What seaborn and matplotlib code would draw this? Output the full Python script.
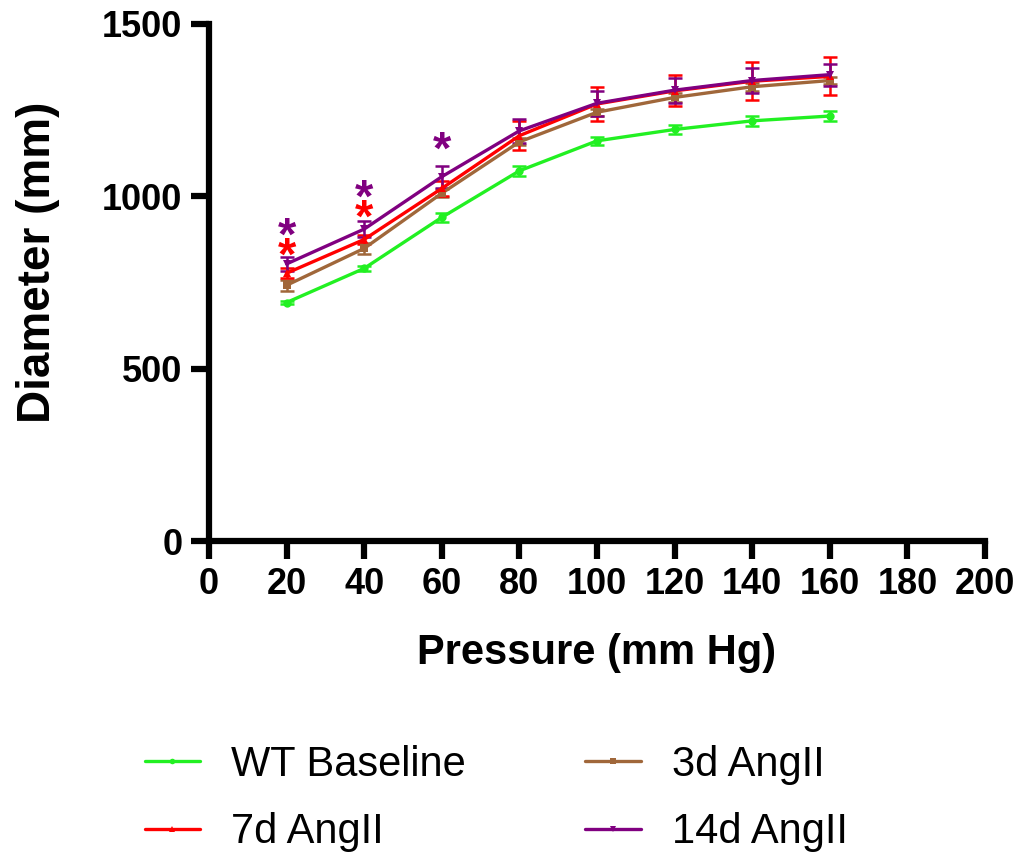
import numpy as np
import pandas as pd
import matplotlib
matplotlib.use("Agg")
import matplotlib.pyplot as plt
import seaborn as sns
from matplotlib.lines import Line2D

# ---- data ----
pressure = [20, 40, 60, 80, 100, 120, 140, 160]
groups = ["WT Baseline", "7d AngII", "3d AngII", "14d AngII"]
wt_mean = [692, 791, 939, 1074, 1161, 1194, 1219, 1233]
wt_sem = [4, 7, 14, 14, 12, 14, 14, 14]
d7_mean = [777, 875, 1023, 1176, 1268, 1306, 1334, 1348]
d7_sem = [15, 12, 22, 42, 50, 45, 55, 55]
d3_mean = [742, 849, 1009, 1158, 1244, 1287, 1318, 1336]
d3_sem = [16, 17, 12, 10, 10, 12, 12, 10]
d14_mean = [804, 905, 1057, 1190, 1270, 1308, 1336, 1353]
d14_sem = [21, 23, 32, 34, 36, 36, 36, 32]

star_x = [20, 20, 40, 40, 60]
star_y = [850, 908, 960, 1018, 1157]
star_group = ["7d AngII", "14d AngII", "7d AngII", "14d AngII", "14d AngII"]

x_ticks = [0, 20, 40, 60, 80, 100, 120, 140, 160, 180, 200]
y_ticks = [0, 500, 1000, 1500]

colors = {"WT Baseline": "#22F022", "7d AngII": "#FF0000",
          "3d AngII": "#A0673A", "14d AngII": "#800080"}
markers = {"WT Baseline": "o", "7d AngII": "^", "3d AngII": "s", "14d AngII": "v"}
means = {"WT Baseline": wt_mean, "7d AngII": d7_mean, "3d AngII": d3_mean, "14d AngII": d14_mean}
sems = {"WT Baseline": wt_sem, "7d AngII": d7_sem, "3d AngII": d3_sem, "14d AngII": d14_sem}

rows = []
for g in groups:
    for p, m, s in zip(pressure, means[g], sems[g]):
        rows.append({"Pressure": p, "Diameter": m, "SEM": s, "Group": g})
df = pd.DataFrame(rows)

sns.set_style("ticks")
plt.rcParams["font.family"] = ["Liberation Sans", "DejaVu Sans"]
plt.rcParams["text.color"] = "black"
plt.rcParams["axes.labelcolor"] = "black"
plt.rcParams["xtick.color"] = "black"
plt.rcParams["ytick.color"] = "black"

fig = plt.figure(figsize=(10.18, 8.57), dpi=100)
ax = fig.add_axes([0.2053, 0.3687, 0.7623, 0.6033])

draw_order = ["WT Baseline", "3d AngII", "7d AngII", "14d AngII"]
for g in draw_order:
    sub = df[df["Group"] == g]
    ax.errorbar(sub["Pressure"], sub["Diameter"], yerr=sub["SEM"], fmt="none",
                ecolor=colors[g], elinewidth=1.8, capsize=5, capthick=1.8, zorder=2)
sns.lineplot(data=df, x="Pressure", y="Diameter", hue="Group", style="Group",
             hue_order=draw_order, style_order=draw_order,
             palette=colors, markers=markers, dashes=False, linewidth=2.4,
             markersize=6, markeredgewidth=0, ax=ax, legend=False, zorder=3)

for sx, sy, sg in zip(star_x, star_y, star_group):
    ax.text(sx, sy - 27, "*", color=colors[sg], fontsize=34, fontweight="bold",
            ha="center", va="center")

ax.set_xlim(0, 200)
ax.set_ylim(0, 1500)
ax.set_xticks(x_ticks)
ax.set_yticks(y_ticks)
for sp in ["top", "right"]:
    ax.spines[sp].set_visible(False)
for sp in ["left", "bottom"]:
    ax.spines[sp].set_linewidth(4.5)
    ax.spines[sp].set_color("black")
ax.tick_params(axis="both", direction="out", length=13, width=4.5, color="black",
               labelcolor="black", labelsize=26, pad=6)
for lab in ax.get_xticklabels() + ax.get_yticklabels():
    lab.set_fontweight("bold")
ax.set_xlabel("Pressure (mm Hg)", fontsize=30, fontweight="bold", labelpad=22)
ax.set_ylabel("Diameter (mm)", fontsize=33, fontweight="bold")
ax.yaxis.set_label_coords(-0.192, 0.54)

handles = [Line2D([0], [0], color=colors[g], lw=2.4, marker=markers[g], markersize=4,
                  markeredgewidth=0) for g in groups]
fig.legend(handles, groups, loc="center left", bbox_to_anchor=(0.142, 0.068),
           ncol=2, frameon=False, fontsize=30, handlelength=1.33,
           handletextpad=0.75, columnspacing=2.86, labelspacing=0.66,
           borderaxespad=0, borderpad=0)

fig.savefig("out.png", dpi=100)
